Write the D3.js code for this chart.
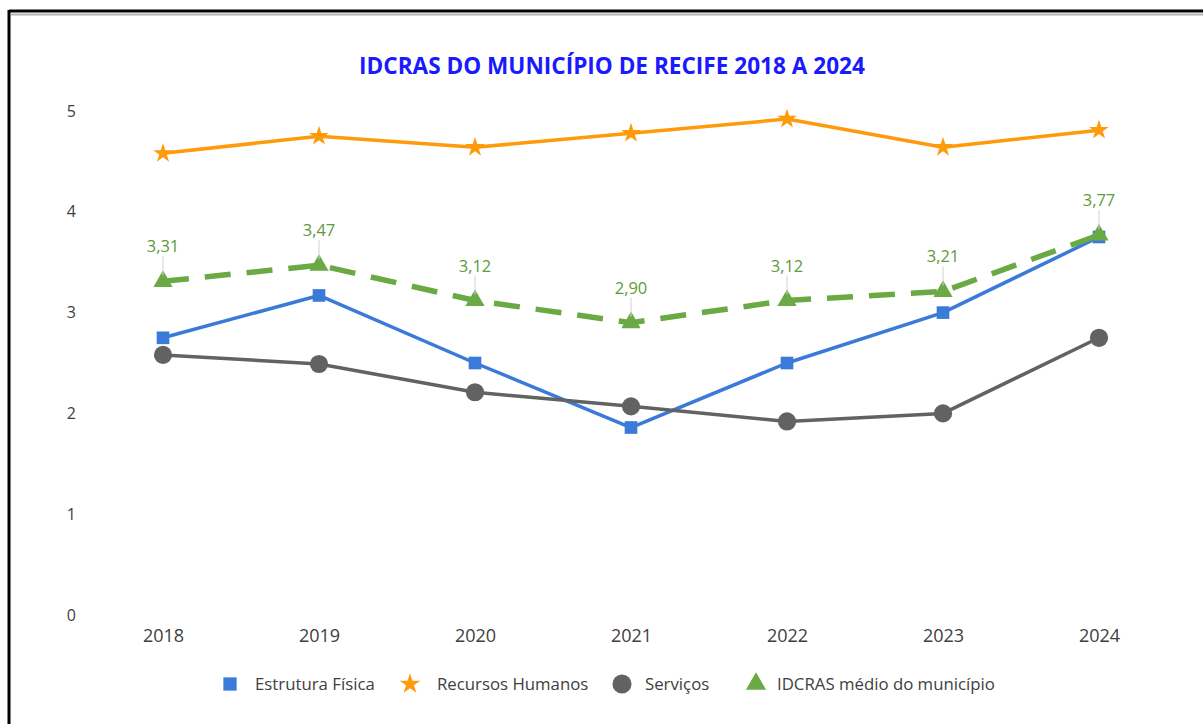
<!DOCTYPE html>
<html>
<head>
<meta charset="utf-8">
<script src="https://cdn.jsdelivr.net/npm/d3@7"></script>
<style>
  body { margin: 0; background: #fff; }
  svg { display: block; }
</style>
</head>
<body>
<svg id="chart" width="1203" height="724"></svg>
<script>
// Data
const years = ["2018", "2019", "2020", "2021", "2022", "2023", "2024"];
const estruturaFisica = [2.75, 3.17, 2.50, 1.86, 2.50, 3.00, 3.75];
const recursosHumanos = [4.58, 4.75, 4.64, 4.78, 4.92, 4.64, 4.81];
const servicos = [2.58, 2.49, 2.21, 2.07, 1.92, 2.00, 2.75];
const idcrasMedio = [3.31, 3.47, 3.12, 2.90, 3.12, 3.21, 3.77];
const yTicks = [0, 1, 2, 3, 4, 5];

const series = [
    {name: "Estrutura Física", values: estruturaFisica, color: "#3b7ad9", symbol: d3.symbolSquare, size: 160, width: 3.5, dash: null},
    {name: "Recursos Humanos", values: recursosHumanos, color: "#ff9a0a", symbol: d3.symbolStar, size: 120, width: 3.5, dash: null},
    {name: "Serviços", values: servicos, color: "#626262", symbol: d3.symbolCircle, size: 260, width: 3.5, dash: null},
    {name: "IDCRAS médio do município", values: idcrasMedio, color: "#6aa944", symbol: d3.symbolTriangle, size: 160, width: 5.5, dash: "26,16"}
];

const svg = d3.select("#chart");
const font = "'Open Sans', sans-serif";

// frame (cropped screenshot border)
svg.append("line").attr("x1", 9).attr("x2", 1203).attr("y1", 11).attr("y2", 11)
    .attr("stroke", "#000").attr("stroke-width", 3);
svg.append("line").attr("x1", 9).attr("x2", 9).attr("y1", 10).attr("y2", 724)
    .attr("stroke", "#000").attr("stroke-width", 3);
svg.append("line").attr("x1", 11).attr("x2", 1203).attr("y1", 14.5).attr("y2", 14.5)
    .attr("stroke", "#b4b4b4").attr("stroke-width", 2);

// Title
svg.append("text")
    .attr("x", 612).attr("y", 74)
    .attr("text-anchor", "middle")
    .style("font-family", font)
    .style("font-weight", "bold")
    .style("font-size", "22.6px")
    .style("fill", "#1a1aff")
    .text("IDCRAS DO MUNICÍPIO DE RECIFE 2018 A 2024");

// Scales
const x = d3.scalePoint().domain(years).range([163, 1099]);
const y = d3.scaleLinear().domain([0, 5]).range([615, 111]);

// Y axis labels
svg.append("g")
    .attr("transform", "translate(76,0)")
    .call(d3.axisLeft(y).tickValues(yTicks).tickFormat(d3.format("d")).tickSize(0).tickPadding(0))
    .call(g => g.select(".domain").remove())
    .selectAll("text")
        .style("font-family", font)
        .style("font-size", "16px")
        .style("fill", "#404040");

// X axis labels
svg.append("g")
    .attr("transform", "translate(0,626)")
    .call(d3.axisBottom(x).tickSize(0).tickPadding(0))
    .call(g => g.select(".domain").remove())
    .selectAll("text")
        .attr("dy", "0.9em")
        .style("font-family", font)
        .style("font-size", "18px")
        .style("fill", "#404040");

const line = d3.line()
    .x((d, i) => x(years[i]))
    .y(d => y(d));

// Lines
series.forEach(s => {
    svg.append("path")
        .datum(s.values)
        .attr("d", line)
        .attr("fill", "none")
        .attr("stroke", s.color)
        .attr("stroke-width", s.width)
        .attr("stroke-dasharray", s.dash)
        .attr("stroke-linejoin", "round");
});

// Markers
series.forEach(s => {
    svg.append("g")
        .selectAll("path")
        .data(s.values)
        .enter()
        .append("path")
            .attr("d", d3.symbol().type(s.symbol).size(s.size))
            .attr("transform", (d, i) => `translate(${x(years[i])},${y(d)})`)
            .attr("fill", s.color);
});

// Data labels for IDCRAS average, with leader lines
const labels = svg.append("g");
labels.selectAll("line")
    .data(idcrasMedio)
    .enter()
    .append("line")
        .attr("x1", (d, i) => x(years[i]))
        .attr("x2", (d, i) => x(years[i]))
        .attr("y1", d => y(d) - 25)
        .attr("y2", d => y(d) - 6)
        .attr("stroke", "#d0d0d0")
        .attr("stroke-width", 1);
labels.selectAll("text")
    .data(idcrasMedio)
    .enter()
    .append("text")
        .attr("x", (d, i) => x(years[i]))
        .attr("y", d => y(d) - 29)
        .attr("text-anchor", "middle")
        .style("font-family", font)
        .style("font-size", "16.5px")
        .style("fill", "#5e9a3c")
        .text(d => d.toFixed(2).replace(".", ","));

// Legend
const legendX = [230, 410, 622, 756];
const legendTextX = [25, 27, 23, 21];
const legend = svg.append("g").attr("transform", "translate(0,684)");
const items = legend.selectAll("g")
    .data(series)
    .enter()
    .append("g")
    .attr("transform", (d, i) => `translate(${legendX[i]},0)`);
items.append("path")
    .attr("d", d => d3.symbol().type(d.symbol).size(d.size * 1.1)())
    .attr("fill", d => d.color);
items.append("text")
    .attr("x", (d, i) => legendTextX[i])
    .attr("y", 6)
    .style("font-family", font)
    .style("font-size", "16.8px")
    .style("fill", "#404040")
    .text(d => d.name);
</script>
</body>
</html>
